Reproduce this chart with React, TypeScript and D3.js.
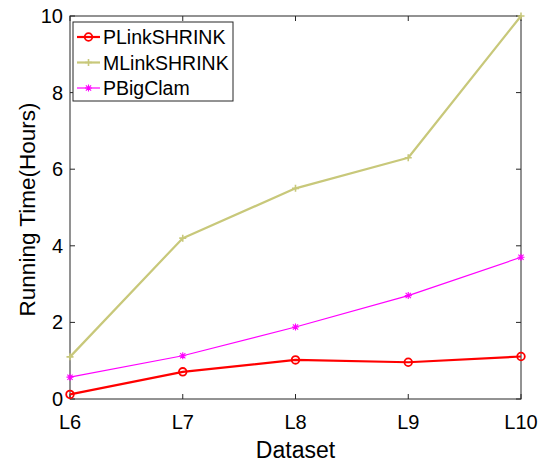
import React, { useRef, useEffect } from "react";
import * as d3 from "d3";

const categories = ["L6", "L7", "L8", "L9", "L10"];
const pLinkShrink = [0.12, 0.71, 1.02, 0.96, 1.11];
const mLinkShrink = [1.1, 4.2, 5.5, 6.3, 10];
const pBigClam = [0.57, 1.13, 1.88, 2.7, 3.7];
const yTicks = [0, 2, 4, 6, 8, 10];

const W = 539, H = 462;
const margin = { top: 16, right: 18, bottom: 63, left: 70 };
const FONT = "'Liberation Sans', Arial, Helvetica, sans-serif";

const App = () => {
  const svgRef = useRef<SVGSVGElement>(null);

  useEffect(() => {
    const svg = d3.select(svgRef.current);
    svg.selectAll("*").remove();
    const width = W - margin.left - margin.right;
    const height = H - margin.top - margin.bottom;

    const x = d3.scalePoint<string>().domain(categories).range([0, width]);
    const y = d3.scaleLinear().domain([0, 10]).range([height, 0]);

    const g = svg.append("g").attr("transform", `translate(${margin.left},${margin.top})`);
    const axisColor = "#262626";

    // box
    g.append("rect").attr("width", width).attr("height", height)
      .attr("fill", "none").attr("stroke", axisColor).attr("stroke-width", 1);

    const tl = 5;
    // x ticks (bottom and top, inward)
    categories.forEach((c) => {
      const px = x(c)!;
      g.append("line").attr("x1", px).attr("x2", px).attr("y1", height).attr("y2", height - tl).attr("stroke", axisColor);
      g.append("line").attr("x1", px).attr("x2", px).attr("y1", 0).attr("y2", tl).attr("stroke", axisColor);
      g.append("text").attr("x", px).attr("y", height + 30).attr("text-anchor", "middle")
        .attr("font-family", FONT).attr("font-size", 20).attr("fill", "#000").text(c);
    });
    yTicks.forEach((t) => {
      const py = y(t);
      g.append("line").attr("x1", 0).attr("x2", tl).attr("y1", py).attr("y2", py).attr("stroke", axisColor);
      g.append("line").attr("x1", width).attr("x2", width - tl).attr("y1", py).attr("y2", py).attr("stroke", axisColor);
      g.append("text").attr("x", -7).attr("y", py).attr("dy", "0.35em").attr("text-anchor", "end")
        .attr("font-family", FONT).attr("font-size", 20).attr("fill", "#000").text(t);
    });

    // axis titles
    g.append("text").attr("x", width / 2).attr("y", height + 59).attr("text-anchor", "middle")
      .attr("font-family", FONT).attr("font-size", 23).attr("fill", "#000").text("Dataset");
    g.append("text").attr("transform", `translate(-35,${height / 2 + 2}) rotate(-90)`).attr("text-anchor", "middle")
      .attr("font-family", FONT).attr("font-size", 22.5).attr("fill", "#000").text("Running Time(Hours)");

    const series = [
      { name: "PLinkSHRINK", values: pLinkShrink, color: "#ff0000", sw: 2.2, marker: "circle" },
      { name: "MLinkSHRINK", values: mLinkShrink, color: "#c8c87a", sw: 2.2, marker: "plus" },
      { name: "PBigClam", values: pBigClam, color: "#ff00ff", sw: 1.2, marker: "star" },
    ];

    const line = d3.line<number>().x((_, i) => x(categories[i])!).y((d) => y(d));

    const drawMarker = (sel: any, type: string, cx: number, cy: number, color: string) => {
      if (type === "circle") {
        sel.append("circle").attr("cx", cx).attr("cy", cy).attr("r", 3.8)
          .attr("fill", "none").attr("stroke", color).attr("stroke-width", 1.8);
      } else if (type === "plus") {
        const s = 3.5;
        sel.append("path").attr("d", `M${cx - s},${cy}H${cx + s}M${cx},${cy - s}V${cy + s}`)
          .attr("stroke", color).attr("stroke-width", 1.6);
      } else {
        const s = 3.5, d = s * 0.75;
        sel.append("path")
          .attr("d", `M${cx - s},${cy}H${cx + s}M${cx},${cy - s}V${cy + s}M${cx - d},${cy - d}L${cx + d},${cy + d}M${cx - d},${cy + d}L${cx + d},${cy - d}`)
          .attr("stroke", color).attr("stroke-width", 1.1);
      }
    };

    // draw order: magenta, olive, red on top
    [series[2], series[1], series[0]].forEach((s) => {
      g.append("path").datum(s.values).attr("d", line).attr("fill", "none")
        .attr("stroke", s.color).attr("stroke-width", s.sw).attr("stroke-linejoin", "round");
      s.values.forEach((v, i) => drawMarker(g, s.marker, x(categories[i])!, y(v), s.color));
    });

    // legend
    const lg = g.append("g").attr("transform", "translate(3,6)");
    lg.append("rect").attr("width", 160).attr("height", 79).attr("fill", "#fff")
      .attr("stroke", axisColor).attr("stroke-width", 1);
    series.forEach((s, i) => {
      const ly = 15 + i * 25.5;
      lg.append("line").attr("x1", 4).attr("x2", 27).attr("y1", ly).attr("y2", ly)
        .attr("stroke", s.color).attr("stroke-width", s.sw);
      drawMarker(lg, s.marker, 15.5, ly, s.color);
      lg.append("text").attr("x", 30).attr("y", ly).attr("dy", "0.36em")
        .attr("font-family", FONT).attr("font-size", 19.5).attr("fill", "#000").text(s.name);
    });
  }, []);

  return (
    <svg ref={svgRef} width={W} height={H} style={{ position: "absolute", left: 0, top: 0, background: "#fff" }} />
  );
};

export default App;
